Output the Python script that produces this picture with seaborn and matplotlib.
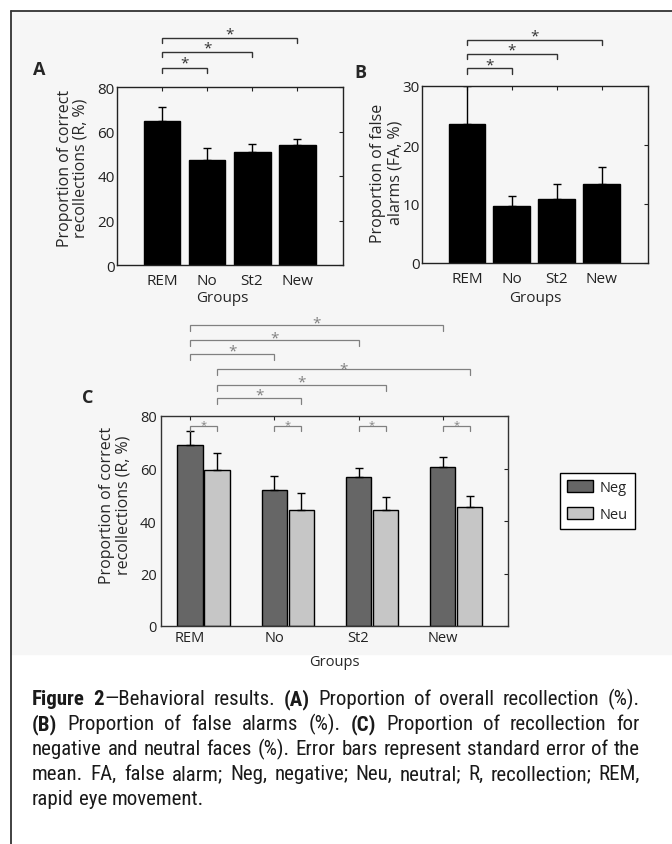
import numpy as np
import pandas as pd
import matplotlib
matplotlib.use("Agg")
import matplotlib.pyplot as plt
import matplotlib.transforms as mtransforms
from matplotlib.patches import Patch, Rectangle
from matplotlib.lines import Line2D
import seaborn as sns

# ---- data ----
groups = ["REM", "No", "St2", "New"]
recall_mean = [64.5, 47.3, 51.0, 53.8]
recall_sem = [6.3, 5.5, 3.6, 3.0]
fa_mean = [23.5, 9.6, 10.8, 13.4]
fa_sem = [6.5, 1.7, 2.6, 2.9]
valences = ["Neg", "Neu"]
neg_mean = [69.1, 52.0, 56.6, 60.4]
neg_sem = [5.2, 5.0, 3.5, 4.0]
neu_mean = [59.4, 44.1, 44.3, 45.5]
neu_sem = [6.5, 6.4, 5.0, 4.1]
palette = {"Neg": "#666666", "Neu": "#c6c6c6"}

caption = [
    "**Figure 2**\u2014Behavioral results. **(A)** Proportion of overall recollection (%).",
    "**(B)** Proportion of false alarms (%). **(C)** Proportion of recollection for",
    "negative and neutral faces (%). Error bars represent standard error of the",
    "mean. FA, false alarm; Neg, negative; Neu, neutral; R, recollection; REM,",
    "rapid eye movement.",
]

sns.set_style("white")
plt.rcParams["font.family"] = ["Open Sans", "DejaVu Sans"]

W, H = 672, 845
fig = plt.figure(figsize=(W / 100, H / 100), dpi=100)


def box(l, t, r, b):
    return [l / W, 1 - b / H, (r - l) / W, (b - t) / H]


# faint scanned background and frame
fig.patches.append(Rectangle((11 / W, 1 - 655 / H), 1, (655 - 12) / H,
                             transform=fig.transFigure, color="#f6f6f6", zorder=-10))
fig.add_artist(Line2D([11 / W, 11 / W], [0, 1 - 12 / H], color="#333333", lw=1.3))
fig.add_artist(Line2D([11 / W, 1], [1 - 12 / H, 1 - 12 / H], color="#333333", lw=1.3))


def style_axes(ax, ypad, xpad, size, spine_col="#222222"):
    ax.set_facecolor("none")
    for s in ax.spines.values():
        s.set_visible(True)
        s.set_color(spine_col)
        s.set_linewidth(1.0)
    ax.tick_params(direction="in", top=True, right=True, length=3, width=0.8,
                   labelsize=size, colors="#222222")
    ax.tick_params(axis="y", pad=ypad)
    ax.tick_params(axis="x", pad=xpad)


def bracket(ax, x0, x1, y, leg, star_y, color, lw, fs, data_y=False):
    if data_y:
        tr = ax.transData
    else:
        tr = mtransforms.blended_transform_factory(ax.transData, ax.transAxes)
    ax.plot([x0, x0, x1, x1], [y - leg, y, y, y - leg], color=color, lw=lw,
            transform=tr, clip_on=False, solid_joinstyle="miter")
    st = mtransforms.offset_copy(tr, fig=fig, y=-0.55 * fs, units="points")
    ax.text((x0 + x1) / 2, star_y, "*", transform=st, ha="center", va="baseline",
            fontsize=fs, color=color, clip_on=False)


def centers(container):
    return [p.get_x() + p.get_width() / 2 for p in container]


def add_err(ax, container, sem):
    xs = centers(container)
    ys = [p.get_height() for p in container]
    ax.errorbar(xs, ys, yerr=[np.zeros(len(sem)), sem], fmt="none", ecolor="black",
                elinewidth=1, capsize=3, capthick=1, zorder=1)


# ---- panel A ----
axa = fig.add_axes(box(117, 88, 343, 266))
sns.barplot(x=groups, y=recall_mean, color="black", width=0.82, saturation=1,
            errorbar=None, edgecolor="black", ax=axa)
add_err(axa, axa.containers[0], recall_sem)
axa.set_xlim(-1, 4.02)
axa.set_ylim(0, 80)
axa.set_yticks([0, 20, 40, 60, 80])
style_axes(axa, 1.5, 6, 11)
axa.set_xlabel("Groups", fontsize=11)
axa.xaxis.set_label_coords(0.465, -0.14)
axa.set_ylabel("Proportion of correct\nrecollections (R, %)", fontsize=11.5, linespacing=1.0)
axa.yaxis.set_label_coords(-0.125, 0.55)
xa = centers(axa.containers[0])
for j, (y, sy) in enumerate([(1.107, 1.163), (1.197, 1.247), (1.275, 1.326)]):
    bracket(axa, xa[0], xa[j + 1], y, 0.028, sy, "#333333", 1.0, 11)

# ---- panel B ----
axb = fig.add_axes(box(422, 87, 648, 264))
sns.barplot(x=groups, y=fa_mean, color="black", width=0.82, saturation=1,
            errorbar=None, edgecolor="black", ax=axb)
add_err(axb, axb.containers[0], fa_sem)
axb.set_xlim(-1, 4.03)
axb.set_ylim(0, 30)
axb.set_yticks([0, 10, 20, 30])
style_axes(axb, 1.5, 6, 11)
axb.set_xlabel("Groups", fontsize=11)
axb.xaxis.set_label_coords(0.5, -0.15)
axb.set_ylabel("Proportion of false\nalarms (FA, %)", fontsize=11.5, linespacing=1.05)
axb.yaxis.set_label_coords(-0.084, 0.514)
xb = centers(axb.containers[0])
for j, (y, sy) in enumerate([(1.10, 1.147), (1.18, 1.229), (1.26, 1.31)]):
    bracket(axb, xb[0], xb[j + 1], y, 0.03, sy, "#333333", 1.0, 11)

# ---- panel C ----
axc = fig.add_axes(box(161, 417, 508, 627))
df_c = pd.DataFrame({
    "group": groups * 2,
    "valence": ["Neg"] * 4 + ["Neu"] * 4,
    "value": neg_mean + neu_mean,
})
sns.barplot(data=df_c, x="group", y="value", hue="valence", order=groups,
            hue_order=valences, palette=palette, width=0.64, gap=0.06,
            edgecolor="black", linewidth=1, saturation=1, errorbar=None,
            legend=False, ax=axc)
conts = sorted(axc.containers, key=lambda c: c[0].get_x())
add_err(axc, conts[0], neg_sem)
add_err(axc, conts[1], neu_sem)
xn = centers(conts[0])
xu = centers(conts[1])
axc.set_xlim(-0.505, 3.614)
axc.set_ylim(0, 80)
axc.set_yticks([0, 20, 40, 60, 80])
axc.set_xticks(xn, groups)
style_axes(axc, 3, 3, 10.5, spine_col="#333333")
axc.set_xlabel("Groups", fontsize=10.5)
axc.xaxis.set_label_coords(0.5, -0.135)
axc.set_ylabel("Proportion of correct\nrecollections (R, %)", fontsize=11.5, linespacing=1.05)
axc.yaxis.set_label_coords(-0.084, 0.58)
# between-group brackets (negative, then neutral)
for j, (y, sy) in enumerate([(1.295, 1.333), (1.362, 1.395), (1.435, 1.467)]):
    bracket(axc, xn[0], xn[j + 1], y, 0.028, sy, "#808080", 0.9, 11)
for j, (y, sy) in enumerate([(1.084, 1.125), (1.149, 1.186), (1.224, 1.248)]):
    bracket(axc, xu[0], xu[j + 1], y, 0.028, sy, "#808080", 0.9, 11)
# within-group brackets
for a, b in zip(xn, xu):
    bracket(axc, a, b, 76.3, 1.9, 78.2, "#808080", 0.9, 8, data_y=True)

handles = [Patch(facecolor=palette[v], edgecolor="black", linewidth=1, label=v) for v in valences]
fig.legend(handles=handles, loc="upper left", bbox_to_anchor=(560 / W, 1 - 474 / H),
           fontsize=10.5, frameon=True, fancybox=False, edgecolor="black",
           borderaxespad=0, borderpad=0.45, handlelength=1.8, handleheight=0.9,
           handletextpad=0.5, labelspacing=0.85, framealpha=1)

# panel letters
fig.text(33 / W, 1 - 75 / H, "A", fontsize=13, fontweight="bold", va="baseline")
fig.text(354 / W, 1 - 78 / H, "B", fontsize=13, fontweight="bold", va="baseline")
fig.text(82 / W, 1 - 403 / H, "C", fontsize=13, fontweight="bold", va="baseline")

# ---- justified caption ----
cap_font = ["Roboto Condensed", "Liberation Sans", "DejaVu Sans"]
renderer = fig.canvas.get_renderer()


def words_of(line):
    words = [[]]
    for k, part in enumerate(line.split("**")):
        for j, chunk in enumerate(part.split(" ")):
            if j > 0:
                words.append([])
            if chunk:
                words[-1].append((chunk, "bold" if k % 2 else "normal"))
    return [w for w in words if w]


def width_px(s, weight, size):
    t = fig.text(0, 0, s, fontsize=size, fontweight=weight, family=cap_font)
    w = t.get_window_extent(renderer).width
    t.remove()
    return w


left, right = 32, 640
cap_size = 15.0
parsed = [words_of(l) for l in caption]


def natural(size):
    sp = width_px("a a", "normal", size) - width_px("aa", "normal", size)
    out = []
    for ws in parsed:
        wl = [[width_px(s, wt, size) for s, wt in w] for w in ws]
        out.append((wl, sp))
    return out


meas = natural(cap_size)
widest = max(sum(sum(w) for w in wl) + sp * (len(wl) - 1) for wl, sp in meas)
if widest > (right - left) * 0.985:
    cap_size *= (right - left) * 0.985 / widest
    meas = natural(cap_size)

baselines = [705, 730, 755, 780, 805]
for i, (ws, (wl, sp)) in enumerate(zip(parsed, meas)):
    total = sum(sum(w) for w in wl)
    if i < len(parsed) - 1 and len(ws) > 1:
        gap = (right - left - total) / (len(ws) - 1)
    else:
        gap = sp
    x = left
    for w, pw in zip(ws, wl):
        for (s, wt), p in zip(w, pw):
            fig.text(x / W, 1 - baselines[i] / H, s, fontsize=cap_size, fontweight=wt,
                     family=cap_font, va="baseline", ha="left", color="#1a1a1a")
            x += p
        x += gap

fig.savefig("out.png", dpi=100)
